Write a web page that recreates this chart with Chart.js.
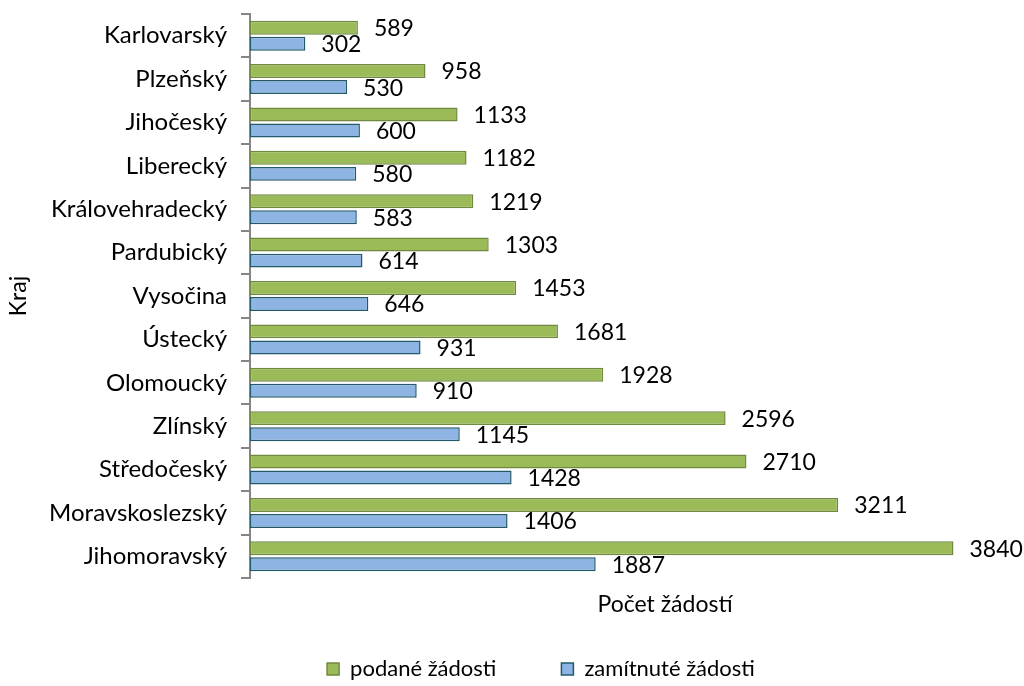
<!DOCTYPE html>
<html>
<head>
<meta charset="utf-8">
<script src="https://cdn.jsdelivr.net/npm/chart.js@4"></script>
<style>
  html, body { margin: 0; padding: 0; background: #fff; }
  #wrap { width: 1024px; height: 686px; position: relative; }
</style>
</head>
<body>
<div id="wrap"><canvas id="chart"></canvas></div>
<script>
const categories = ['Karlovarský', 'Plzeňský', 'Jihočeský', 'Liberecký', 'Královehradecký',
  'Pardubický', 'Vysočina', 'Ústecký', 'Olomoucký', 'Zlínský', 'Středočeský',
  'Moravskoslezský', 'Jihomoravský'];
const podane = [589, 958, 1133, 1182, 1219, 1303, 1453, 1681, 1928, 2596, 2710, 3211, 3840];
const zamitnute = [302, 530, 600, 580, 583, 614, 646, 931, 910, 1145, 1428, 1406, 1887];

const FONT = 'Lato';
const FONT_SIZE = 23;

// value labels at the bar ends + axis titles placed like the original
const labelsPlugin = {
  id: 'valueLabels',
  afterLayout(chart) {
    // legend sits a bit right of the canvas centre in the original
    chart.legend.left += 14;
    chart.legend.right += 14;
  },
  afterDatasetsDraw(chart) {
    const ctx = chart.ctx;
    const area = chart.chartArea;
    ctx.save();
    ctx.font = FONT_SIZE + 'px ' + FONT;
    ctx.fillStyle = '#000';
    ctx.textBaseline = 'middle';
    ctx.textAlign = 'left';
    chart.data.datasets.forEach((ds, i) => {
      chart.getDatasetMeta(i).data.forEach((bar, j) => {
        ctx.fillText(ds.data[j], bar.x + 16, bar.y + 1);
      });
    });
    ctx.textAlign = 'center';
    ctx.fillText('Počet žádostí', 665, 605);
    // y axis title
    ctx.translate(19, (area.top + area.bottom) / 2);
    ctx.rotate(-Math.PI / 2);
    ctx.fillText('Kraj', 0, 0);
    ctx.restore();
  }
};

new Chart(document.getElementById('chart'), {
  type: 'bar',
  data: {
    labels: categories,
    datasets: [{
      label: 'podané žádosti',
      data: podane,
      backgroundColor: '#9BBB59',
      borderColor: '#71893F',
      borderWidth: 1.5,
      borderSkipped: false
    }, {
      label: 'zamítnuté žádosti',
      data: zamitnute,
      backgroundColor: '#8DB4E2',
      borderColor: '#215A69',
      borderWidth: 1.5,
      borderSkipped: false
    }]
  },
  options: {
    indexAxis: 'y',
    responsive: true,
    maintainAspectRatio: false,
    animation: false,
    categoryPercentage: 0.74,
    barPercentage: 0.87,
    layout: { padding: { top: 14, right: 0, bottom: -4, left: 30 } },
    plugins: {
      legend: {
        position: 'bottom',
        labels: {
          font: { family: FONT, size: 22 },
          color: '#000',
          boxWidth: 12,
          boxHeight: 12,
          padding: 65
        }
      },
      tooltip: { enabled: false }
    },
    scales: {
      x: {
        min: 0,
        max: 4225,
        display: true,
        ticks: { display: false },
        grid: { display: false },
        border: { display: false },
        afterFit: function(scale) { scale.height = 15; }
      },
      y: {
        grid: {
          offset: true,
          drawOnChartArea: false,
          tickLength: 9,
          color: '#868686',
          lineWidth: 2
        },
        border: { color: '#868686', width: 2 },
        ticks: {
          font: { family: FONT, size: 24 },
          color: '#000',
          padding: 14
        },
        afterFit: function(scale) {
          scale.width = 220;
          scale.paddingTop = 0;
          scale.paddingBottom = 0;
        }
      }
    }
  },
  plugins: [labelsPlugin]
});
</script>
</body>
</html>
